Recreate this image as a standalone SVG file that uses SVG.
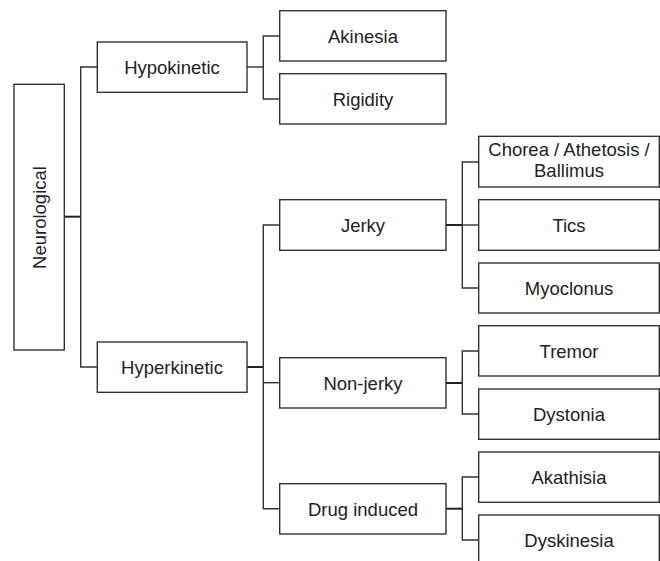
<svg xmlns="http://www.w3.org/2000/svg" width="660" height="561" viewBox="0 0 660 561">
<style>
rect{fill:#fff;stroke:#333;stroke-width:1.4}
text{font-family:"Liberation Sans",Arial,sans-serif;font-size:18.5px;fill:#222;text-anchor:middle}
#connectors path{fill:none;stroke:#333;stroke-width:1.4}
#connectors path.thick{stroke:#222;stroke-width:2}
</style>
<rect x="0" y="0" width="660" height="561" style="fill:#fff;stroke:none"/>
<g id="connectors">
<path class="thick" d="M64 216.7H80.7"/>
<path d="M97.3 67H80.7V367H97.3"/>
<path d="M247 67H263.3"/>
<path d="M280 36H263.3V99H280"/>
<path class="thick" d="M247 367H263.3"/>
<path d="M280 225H263.3V508.7H280"/>
<path d="M263.3 382.7H280"/>
<path class="thick" d="M446 225H462.3"/>
<path d="M479 162H462.3V288H479"/>
<path d="M462.3 225H479"/>
<path class="thick" d="M446 383H462.3"/>
<path d="M479 351H462.3V414H479"/>
<path class="thick" d="M446 508.7H462.3"/>
<path d="M479 477H462.3V540H479"/>
</g>
<g id="neurological"><rect x="14" y="84.3" width="50.3" height="265.7"/><text transform="translate(45.5,217.5) rotate(-90)">Neurological</text></g>
<g id="hypokinetic"><rect x="97.3" y="42" width="149.7" height="50.3"/><text x="172" y="73.5">Hypokinetic</text></g>
<g id="hyperkinetic"><rect x="97.3" y="342" width="149.7" height="50.3"/><text x="172" y="373.5">Hyperkinetic</text></g>
<g id="akinesia"><rect x="279.7" y="10.7" width="166.3" height="50.3"/><text x="363" y="42.5">Akinesia</text></g>
<g id="rigidity"><rect x="279.7" y="73.7" width="166.3" height="50.3"/><text x="363" y="105.5">Rigidity</text></g>
<g id="jerky"><rect x="279.7" y="199.7" width="166.3" height="50.6"/><text x="363" y="231.5">Jerky</text></g>
<g id="nonjerky"><rect x="279.7" y="357.7" width="166.3" height="50.3"/><text x="363" y="389.5">Non-jerky</text></g>
<g id="druginduced"><rect x="279.7" y="483.7" width="166.3" height="50.3"/><text x="363" y="515.5">Drug induced</text></g>
<g id="chorea"><rect x="478.7" y="136.3" width="180.6" height="50.7"/><text x="569" y="155.5">Chorea / Athetosis /</text><text x="569" y="176.5">Ballimus</text></g>
<g id="tics"><rect x="478.7" y="199.7" width="180.6" height="50.6"/><text x="569" y="231.5">Tics</text></g>
<g id="myoclonus"><rect x="478.7" y="263" width="180.6" height="50"/><text x="569" y="294.5">Myoclonus</text></g>
<g id="tremor"><rect x="478.7" y="325.7" width="180.6" height="50.3"/><text x="569" y="357.5">Tremor</text></g>
<g id="dystonia"><rect x="478.7" y="389" width="180.6" height="50.3"/><text x="569" y="420.5">Dystonia</text></g>
<g id="akathisia"><rect x="478.7" y="452" width="180.6" height="50.3"/><text x="569" y="483.5">Akathisia</text></g>
<g id="dyskinesia"><rect x="478.7" y="515" width="180.6" height="50.3"/><text x="569" y="546.5">Dyskinesia</text></g>
</svg>
